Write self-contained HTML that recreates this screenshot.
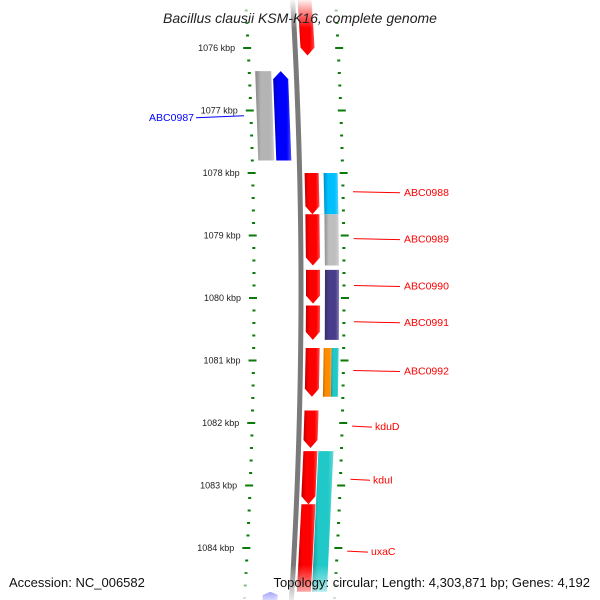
<!DOCTYPE html>
<html><head><meta charset="utf-8"><style>
body{margin:0;background:#fff}
svg{display:block;font-family:"Liberation Sans","DejaVu Sans",sans-serif}
</style></head><body>
<svg id="map" width="600" height="600" viewBox="0 0 600 600" xmlns="http://www.w3.org/2000/svg">
<defs>
<linearGradient id="fadeTop" x1="0" y1="0" x2="0" y2="1"><stop offset="0" stop-color="#fff" stop-opacity="0.95"/><stop offset="1" stop-color="#fff" stop-opacity="0"/></linearGradient>
<linearGradient id="fadeBot" x1="0" y1="0" x2="0" y2="1"><stop offset="0" stop-color="#fff" stop-opacity="0"/><stop offset="1" stop-color="#fff" stop-opacity="0.85"/></linearGradient>
<linearGradient id="shade" x1="0" y1="0" x2="1" y2="0"><stop offset="0" stop-color="#000" stop-opacity="0.25"/><stop offset="0.3" stop-color="#000" stop-opacity="0"/><stop offset="0.75" stop-color="#fff" stop-opacity="0"/><stop offset="1" stop-color="#fff" stop-opacity="0.3"/></linearGradient>
</defs>
<g id="layer"></g>
<rect x="0" y="0" width="600" height="28" fill="url(#fadeTop)"/>
<rect x="0" y="565" width="600" height="35" fill="url(#fadeBot)"/>
<text x="300" y="23" text-anchor="middle" font-size="14" font-style="italic" fill="#222">Bacillus clausii KSM-K16, complete genome</text>
<text x="9" y="587" font-size="13" fill="#111">Accession: NC_006582</text>
<text x="590" y="587" text-anchor="end" font-size="13" fill="#111">Topology: circular; Length: 4,303,871 bp; Genes: 4,192</text>
</svg>
<script>
// data
const tickKbp = [1076,1077,1078,1079,1080,1081,1082,1083,1084];
const tickLabels = ["1076 kbp","1077 kbp","1078 kbp","1079 kbp","1080 kbp","1081 kbp","1082 kbp","1083 kbp","1084 kbp"];
const geneStart = [1075.0,1076.37,1076.37,1078.0,1078.66,1079.55,1080.12,1080.8,1081.8,1082.45,1083.3,1078.0,1078.66,1079.55,1080.8,1080.8,1082.45,1084.7];
const geneEnd   = [1076.12,1077.8,1077.8,1078.66,1079.48,1080.09,1080.67,1081.58,1082.4,1083.3,1084.7,1078.66,1079.48,1080.67,1081.58,1081.58,1084.7,1084.85];
const geneTrack = ["f","g","b","f","f","f","f","f","f","f","f","r","r","r","ro","rt","r2","bb"];
const geneColor = ["#ff0000","#b4b4b4","#0000ff","#ff0000","#ff0000","#ff0000","#ff0000","#ff0000","#ff0000","#ff0000","#ff0000","#00bfff","#bebebe","#483d8b","#ff8c00","#20c8c8","#20c8c8","#0000ff"];
const geneArrow = ["down","none","up","down","down","down","down","down","down","down","none","none","none","none","none","none","none","up"];
const labelText = ["ABC0987","ABC0988","ABC0989","ABC0990","ABC0991","ABC0992","kduD","kduI","uxaC"];
const labelKbp  = [1077.1,1078.3,1079.05,1079.8,1080.38,1081.16,1082.05,1082.9,1084.05];
const labelColor= ["#0000ff","#ff0000","#ff0000","#ff0000","#ff0000","#ff0000","#ff0000","#ff0000","#ff0000"];

const svg = document.getElementById('layer');
const NS = "http://www.w3.org/2000/svg";
function yScale(k){ return 48 + (k-1076)*62.5; }
function dx(y){ return -0.0001*(y-290)*(y-290); }
const trackX = {f:[306,320],g:[260,276],b:[278,293],r:[325,339],ro:[324,332],rt:[332,339],r2:[321,336],bb:[272,287]};
function mk(tag, attrs){ const e=document.createElementNS(NS,tag); for(const k in attrs) e.setAttribute(k,attrs[k]); svg.appendChild(e); return e; }

// backbone
const bb = document.createElementNS(NS,'path');


let d='';
for(let y=0;y<=600;y+=10){ d += (y?'L':'M')+(301+dx(y)).toFixed(2)+' '+y; }
bb.setAttribute('d',d); bb.setAttribute('stroke','#7a7a7a'); bb.setAttribute('stroke-width','5'); bb.setAttribute('fill','none');
svg.appendChild(bb);

// ticks
for(let k=1075.2;k<=1085.0;k+=0.2){
  const kk=Math.round(k*5)/5; const y=yScale(kk);
  const major = Math.abs(kk-Math.round(kk))<0.01;
  const xl=254+dx(y), xr=344+dx(y);
  const t1=document.createElementNS(NS,'rect');
   
  t1.setAttribute('x',(major?xl-5:xl-1.5)); t1.setAttribute('y',y-1); t1.setAttribute('width',major?8:3); t1.setAttribute('height',2); t1.setAttribute('fill','#0a7a0a');
  svg.appendChild(t1);
  const t2=document.createElementNS(NS,'rect');
   
  t2.setAttribute('x',(major?xr-3:xr-1.5)); t2.setAttribute('y',y-1); t2.setAttribute('width',major?8:3); t2.setAttribute('height',2); t2.setAttribute('fill','#0a7a0a');
  svg.appendChild(t2);
}
tickKbp.forEach((k,i)=>{
  const y=yScale(k);
  const t=document.createElementNS(NS,'text');
   
  t.setAttribute('x',241+dx(y)); t.setAttribute('y',y+3); t.setAttribute('text-anchor','end'); t.setAttribute('font-size','9'); t.setAttribute('fill','#222');
  t.textContent=tickLabels[i]; svg.appendChild(t);
});

// genes
geneStart.forEach((s,i)=>{
  const y0=yScale(s), y1=yScale(geneEnd[i]);
  const [a,b]=trackX[geneTrack[i]];
  const a0=a+dx(y0), b0=b+dx(y0), a1=a+dx(y1), b1=b+dx(y1);
  let pts;
  if(geneArrow[i]==='down'){
    const h=Math.min(8,(y1-y0)/3);
    pts=[[a0,y0],[b0,y0],[b1,y1-h],[(a1+b1)/2,y1],[a1,y1-h]];
  } else if(geneArrow[i]==='up'){
    const h=Math.min(8,(y1-y0)/3);
    pts=[[(a0+b0)/2,y0],[b0,y0+h],[b1,y1],[a1,y1],[a0,y0+h]];
  } else pts=[[a0,y0],[b0,y0],[b1,y1],[a1,y1]];
  const p=document.createElementNS(NS,'polygon');
   
  p.setAttribute('points',pts.map(q=>q[0].toFixed(1)+','+q[1].toFixed(1)).join(' '));
  p.setAttribute('fill',geneColor[i]); svg.appendChild(p);
  const p2=document.createElementNS(NS,'polygon');
   
  p2.setAttribute('points',p.getAttribute('points')); p2.setAttribute('fill','url(#shade)'); svg.appendChild(p2);
});

// labels
labelText.forEach((txt,i)=>{
  const y=yScale(labelKbp[i]);
  const left = i===0;
  const ln=document.createElementNS(NS,'line');
   
  let x1,x2,tx;
  if(left){ x1=196; x2=244; tx=194; }
  else { x1=354+dx(y); x2= i>=6 ? 372-(i-6)*2 : 400; tx = i>=6 ? x2+3 : 404; }
  ln.setAttribute('x1',x1); ln.setAttribute('y1',left?y+1:y); ln.setAttribute('x2',x2); ln.setAttribute('y2',left?y-1:y+1);
  ln.setAttribute('stroke',labelColor[i]); ln.setAttribute('stroke-width','1'); svg.appendChild(ln);
  const t=document.createElementNS(NS,'text');
   
  t.setAttribute('x',tx); t.setAttribute('y',y+4); t.setAttribute('font-size','10.5');
  t.setAttribute('text-anchor',left?'end':'start'); t.setAttribute('fill',labelColor[i]);
  t.textContent=txt; svg.appendChild(t);
});
</script>
</body></html>
